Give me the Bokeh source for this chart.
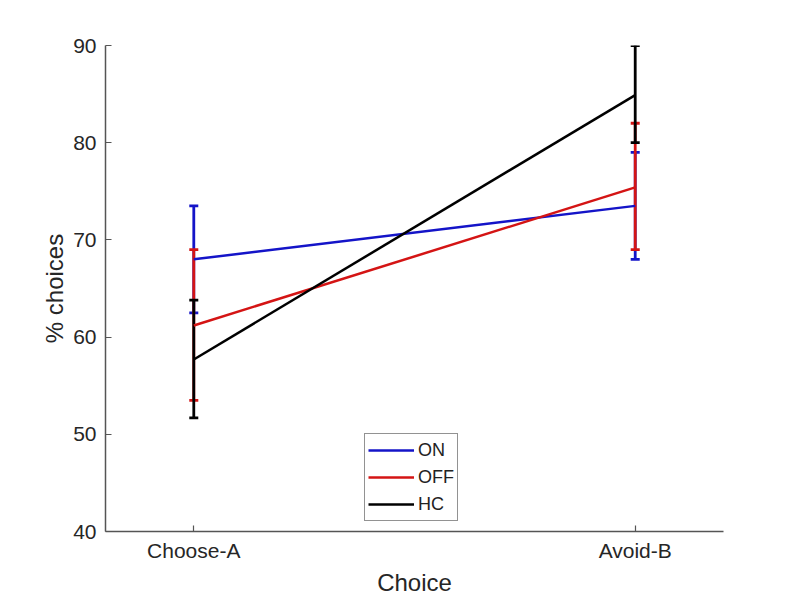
from bokeh.plotting import figure
from bokeh.models import ColumnDataSource, Whisker, TeeHead, FixedTicker, Legend, LegendItem, Range1d
from bokeh.embed import file_html
from bokeh.resources import INLINE

categories = ["Choose-A", "Avoid-B"]
xpos = [1, 2]
series_names = ["ON", "OFF", "HC"]
on_mean = [68.0, 73.5]
on_lower = [62.5, 68.0]
on_upper = [73.5, 79.0]
off_mean = [61.2, 75.4]
off_lower = [53.5, 69.0]
off_upper = [69.0, 82.0]
hc_mean = [57.7, 84.9]
hc_lower = [51.7, 80.0]
hc_upper = [63.8, 90.0]
y_ticks = [40, 50, 60, 70, 80, 90]
colors = ["#1414c8", "#d41414", "#000000"]

FONT = "Liberation Sans"

p = figure(width=792, height=600, output_backend="svg", toolbar_location=None,
           x_range=Range1d(0.8, 2.2), y_range=Range1d(40, 90),
           min_border_left=105, min_border_right=69, min_border_top=45, min_border_bottom=69)
p.outline_line_color = None
p.grid.visible = False
p.background_fill_color = "white"
p.border_fill_color = "white"

means = [on_mean, off_mean, hc_mean]
lowers = [on_lower, off_lower, hc_lower]
uppers = [on_upper, off_upper, hc_upper]

items = []
for name, m, lo, hi, c in zip(series_names, means, lowers, uppers, colors):
    src = ColumnDataSource(dict(x=xpos, y=m, lower=lo, upper=hi))
    w = Whisker(base="x", lower="lower", upper="upper", source=src, dimension="height",
                line_color=c, line_width=2.8,
                upper_head=TeeHead(size=9, line_color=c, line_width=2.8),
                lower_head=TeeHead(size=9, line_color=c, line_width=2.8))
    p.add_layout(w)
    r = p.line("x", "y", source=src, line_color=c, line_width=2.5)
    items.append(LegendItem(label=name, renderers=[r]))

legend = Legend(items=items, location=(259, 10), glyph_width=46, glyph_height=26,
                label_height=26, spacing=1, padding=3, margin=0, label_standoff=4,
                label_text_font=FONT, label_text_font_size="18px", label_text_color="#222222",
                border_line_color="#262626", border_line_width=1, background_fill_alpha=1)
p.add_layout(legend, "center")

for ax in [p.xaxis[0], p.yaxis[0]]:
    ax.axis_line_color = "#555555"
    ax.axis_line_width = 1.5
    ax.major_tick_line_color = "#555555"
    ax.major_tick_line_width = 1.2
    ax.major_tick_in = 6
    ax.major_tick_out = 0
    ax.minor_tick_line_color = None
    ax.major_label_text_font = FONT
    ax.major_label_text_font_size = "21px"
    ax.major_label_text_color = "#262626"
    ax.axis_label_text_font = FONT
    ax.axis_label_text_font_size = "24px"
    ax.axis_label_text_font_style = "normal"
    ax.axis_label_text_color = "#262626"

p.xaxis.ticker = FixedTicker(ticks=xpos)
p.xaxis.major_label_overrides = {x: c for x, c in zip(xpos, categories)}
p.xaxis.axis_label = "Choice"
p.xaxis.major_label_standoff = 7
p.xaxis.axis_label_standoff = 4
p.yaxis.ticker = FixedTicker(ticks=y_ticks)
p.yaxis.axis_label = "% choices"
p.yaxis.major_label_standoff = 9
p.yaxis.axis_label_standoff = 2

open("out.html", "w").write(file_html(p, INLINE))
